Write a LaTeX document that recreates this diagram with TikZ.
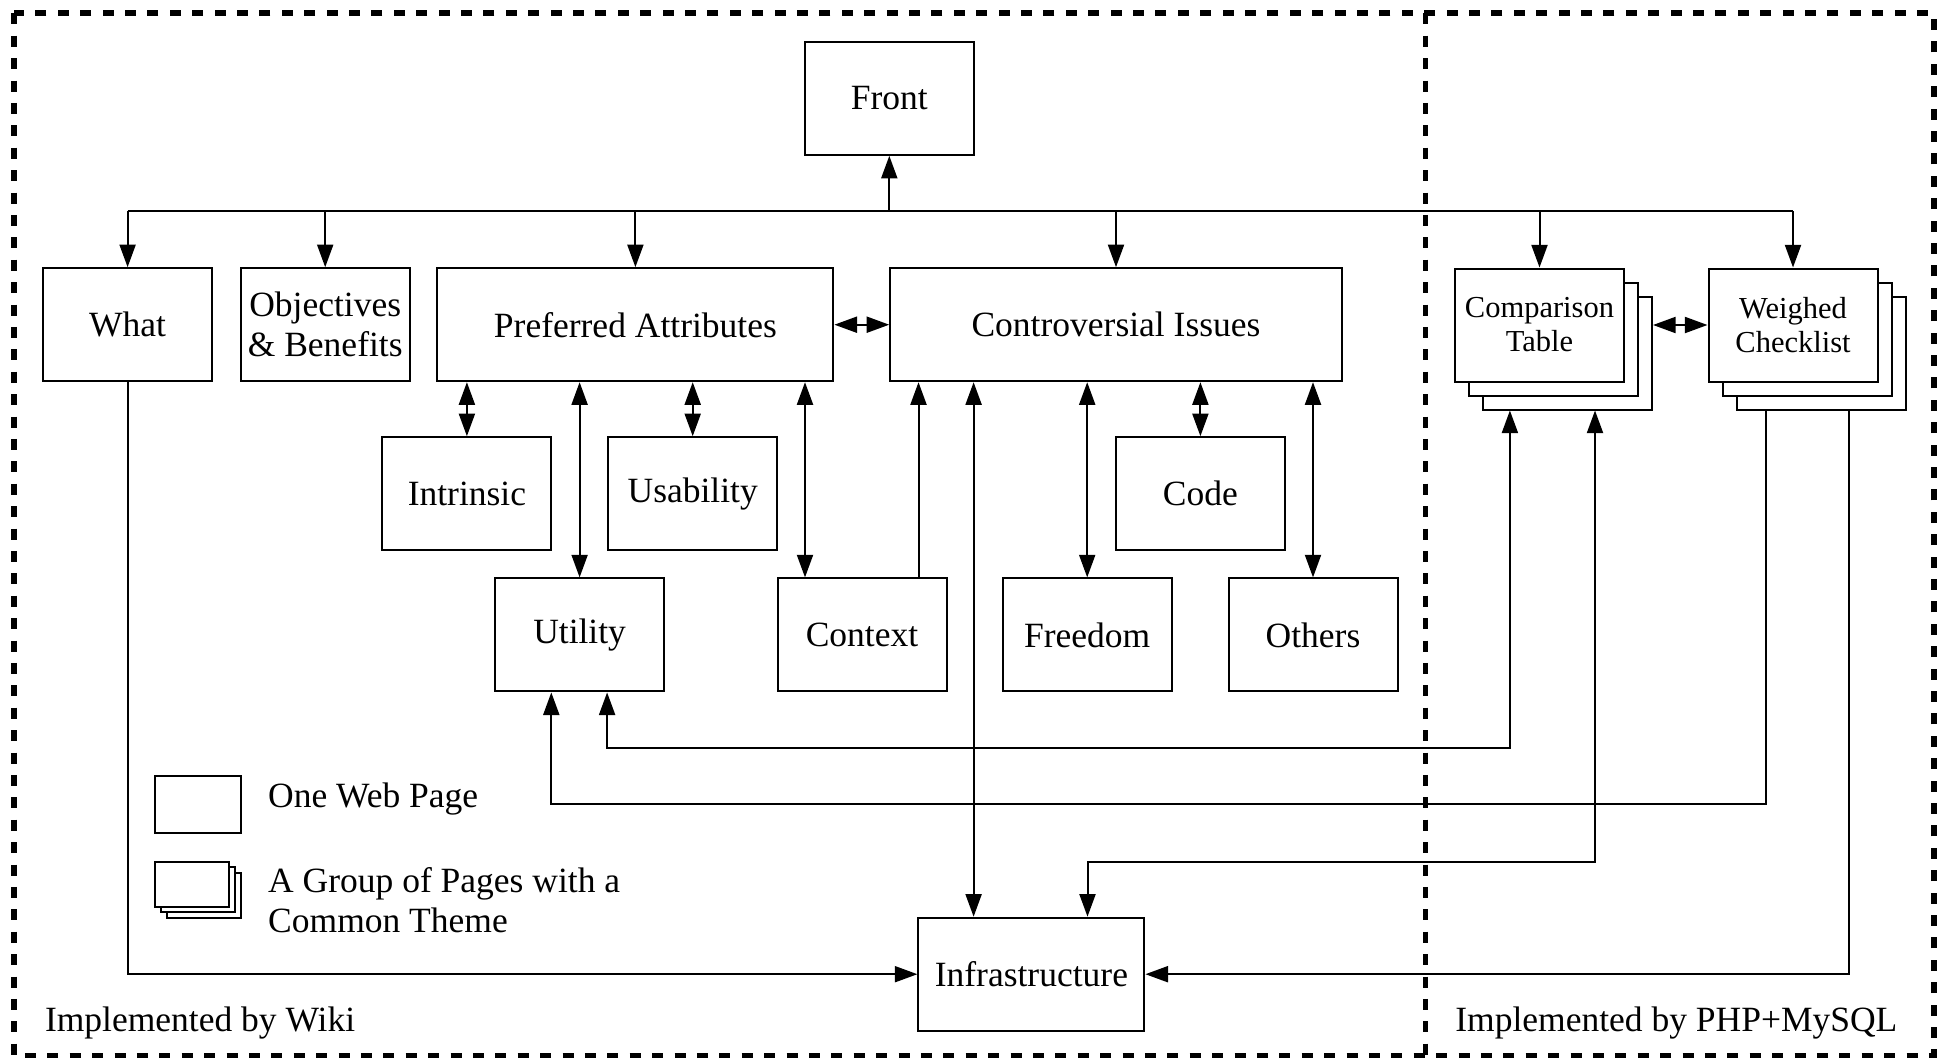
\documentclass[tikz,border=0pt]{standalone}
\usepackage{fontspec}
\setmainfont{Liberation Serif}
\usetikzlibrary{arrows.meta,calc}

\begin{document}
\begin{tikzpicture}[x=0.5pt,y=-0.5pt,
  every node/.style={font=\fontsize{17.75pt}{20pt}\selectfont},
  page/.style={draw, line width=1pt, fill=white, inner sep=0pt, align=center,
               minimum width=84.5pt, minimum height=56.5pt},
  small/.style={font=\fontsize{15.25pt}{17pt}\selectfont},
  link/.style={line width=1pt},
  tip/.tip={Triangle[length=11.3pt,width=8pt]},
  arr/.style={link, -tip},
  dbl/.style={link, tip-tip},
  region/.style={line width=2.9pt, dash pattern=on 5.5pt off 5.7pt},
  note/.style={inner sep=0pt, anchor=base west}
]
\useasboundingbox (0,0) rectangle (1939,1060);

% implementation regions
\draw[region] (14.3,13.3) rectangle (1933.7,1055.5);
\draw[region] (1425.5,13.3) -- (1425.5,1055.5);

% pages
\node[page] (front) at (889.3,98.3) {Front};
\node[page] (what) at (127.6,324.7) {What};
\node[page] (obj) at (325.2,324.7) {Objectives\\\& Benefits};
\node[page, minimum width=198pt] (pref) at (635.4,324.7) {Preferred Attributes};
\node[page, minimum width=225.75pt] (contr) at (1116,324.7) {Controversial Issues};

\node[page] (intr) at (466.9,493.7) {Intrinsic};
\node[page] (usab) at (692.7,493.7) {Usability};
\node[page] (code) at (1200.4,493.7) {Code};

\node[page] (util) at (579.6,634.9) {Utility};
\node[page] (context) at (862,634.9) {Context};
\node[page] (freedom) at (1087.2,634.9) {Freedom};
\node[page] (others) at (1313,634.9) {Others};

\node[page, minimum width=113pt] (infra) at (1031.4,974.2) {Infrastructure};

% page groups
\node[page] (compB) at (1567.5,353) {};
\node[page] (compM) at (1553.5,339) {};
\node[page, small] (comp) at (1539.5,325) {Comparison\\Table};
\node[page] (weighB) at (1821,353) {};
\node[page] (weighM) at (1807,339) {};
\node[page, small] (weigh) at (1793,325) {Weighed\\Checklist};

% legend
\node[page, minimum width=42.8pt, minimum height=28.6pt] (keyone) at (198.2,804.7) {};
\node[page, minimum width=36.8pt, minimum height=22.5pt] (keygrpB) at (204.2,895.2) {};
\node[page, minimum width=36.8pt, minimum height=22.5pt] (keygrpM) at (198.2,889.7) {};
\node[page, minimum width=36.8pt, minimum height=22.5pt] (keygrp) at (192.2,884.2) {};
\node[note] (keyonetxt) at (267.8,807.3) {One Web Page};
\node[note] (keygrptxtA) at (267.8,892.7) {A Group of Pages with a};
\node[note] (keygrptxtB) at (267.8,932.3) {Common Theme};

\node[note] (wiki) at (44.6,1031.7) {Implemented by Wiki};
\node[note] (php) at (1454.9,1031.7) {Implemented by PHP+MySQL};

% routing channels
\coordinate (bus) at (0,211);
\coordinate (xctx) at (805,0);
\coordinate (xctxup) at (918.5,0);
\coordinate (xinfra) at (973.6,0);
\coordinate (xic) at (1087.5,0);
\coordinate (xcu) at (1509.9,0);
\coordinate (xci) at (1595,0);
\coordinate (xwu) at (1765.8,0);
\coordinate (xwi) at (1849.3,0);
\coordinate (xuw) at (551.3,0);
\coordinate (xuc) at (607.1,0);
\coordinate (laneA) at (0,747.7);
\coordinate (laneB) at (0,804.3);
\coordinate (laneC) at (0,861.7);

% top-level navigation
\draw[link] (what.north |- bus) -- (weigh.north |- bus);
\draw[arr] (front.south |- bus) -- (front.south);
\draw[arr] (what.north |- bus) -- (what.north);
\draw[arr] (obj.north |- bus) -- (obj.north);
\draw[arr] (pref.north |- bus) -- (pref.north);
\draw[arr] (contr.north |- bus) -- (contr.north);
\draw[arr] (comp.north |- bus) -- (comp.north);
\draw[arr] (weigh.north |- bus) -- (weigh.north);

% attribute links
\draw[dbl] (pref.east) -- (contr.west);
\draw[dbl] (pref.south -| intr.north) -- (intr.north);
\draw[dbl] (pref.south -| util.north) -- (util.north);
\draw[dbl] (pref.south -| usab.north) -- (usab.north);
\draw[dbl] (pref.south -| xctx) -- (context.north -| xctx);
\draw[arr] (context.north -| xctxup) -- (contr.south -| xctxup);
\draw[dbl] (contr.south -| xinfra) -- (infra.north -| xinfra);
\draw[dbl] (contr.south -| freedom.north) -- (freedom.north);
\draw[dbl] (contr.south -| code.north) -- (code.north);
\draw[dbl] (contr.south -| others.north) -- (others.north);

% tools
\draw[dbl] (compB.east |- comp.east) -- (weigh.west);
\draw[dbl] (util.south -| xuc) -- (xuc |- laneA) -- (xcu |- laneA) -- (compB.south -| xcu);
\draw[arr] (weighB.south -| xwu) -- (xwu |- laneB) -- (xuw |- laneB) -- (util.south -| xuw);
\draw[dbl] (infra.north -| xic) -- (xic |- laneC) -- (xci |- laneC) -- (compB.south -| xci);
\draw[arr] (weighB.south -| xwi) -- (xwi |- infra.east) -- (infra.east);
\draw[arr] (what.south) -- (what.south |- infra.west) -- (infra.west);
\end{tikzpicture}
\end{document}
